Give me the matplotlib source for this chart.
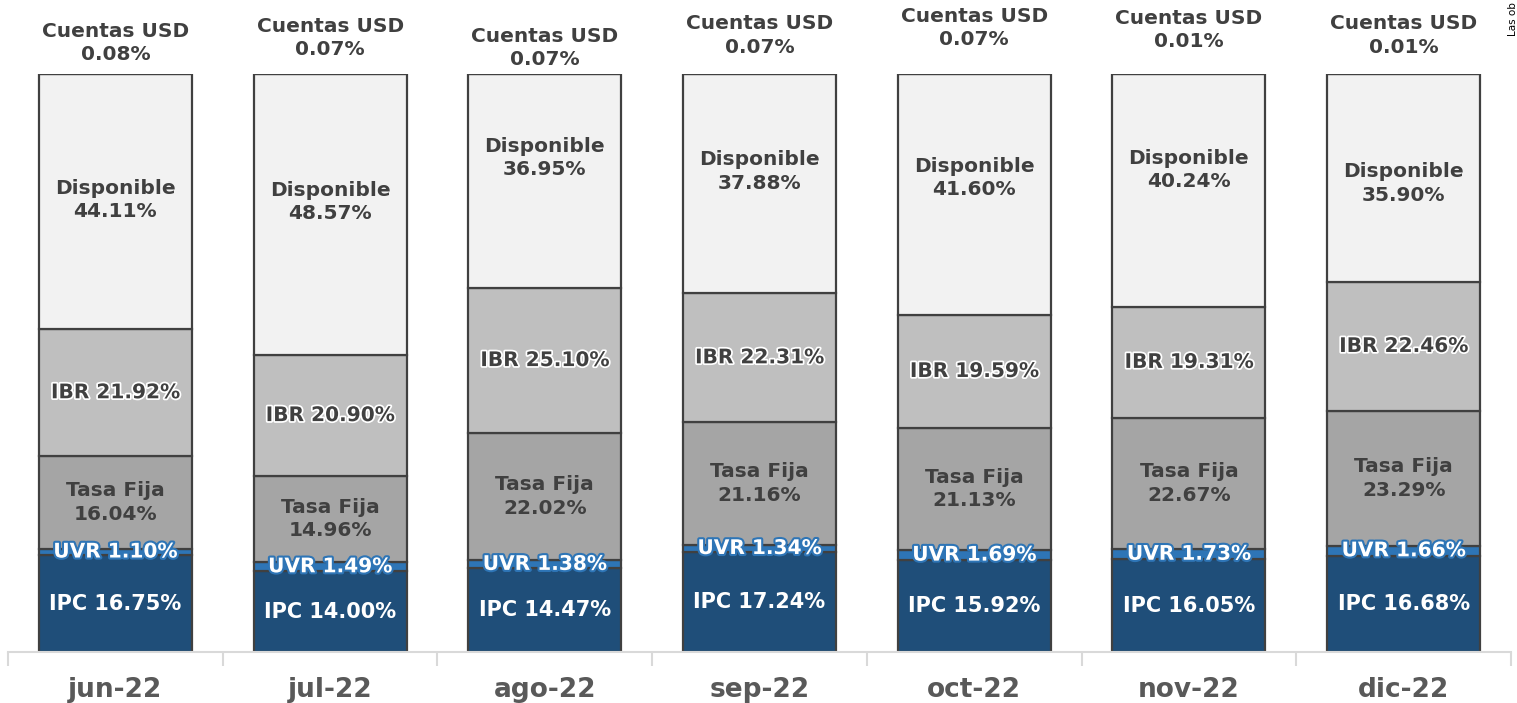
import matplotlib.pyplot as plt
import matplotlib.patheffects as pe
import numpy as np

months = ["jun-22", "jul-22", "ago-22", "sep-22", "oct-22", "nov-22", "dic-22"]
ipc = [16.75, 14.00, 14.47, 17.24, 15.92, 16.05, 16.68]
uvr = [1.10, 1.49, 1.38, 1.34, 1.69, 1.73, 1.66]
tasa_fija = [16.04, 14.96, 22.02, 21.16, 21.13, 22.67, 23.29]
ibr = [21.92, 20.90, 25.10, 22.31, 19.59, 19.31, 22.46]
disponible = [44.11, 48.57, 36.95, 37.88, 41.60, 40.24, 35.90]
cuentas_usd = [0.08, 0.07, 0.07, 0.07, 0.07, 0.01, 0.01]

series = [
    ("IPC", ipc, "#1F4E79"),
    ("UVR", uvr, "#2E75B6"),
    ("Tasa Fija", tasa_fija, "#A5A5A5"),
    ("IBR", ibr, "#BFBFBF"),
    ("Disponible", disponible, "#F2F2F2"),
    ("Cuentas USD", cuentas_usd, "#F2F2F2"),
]

# label placement tweaks (axis units), as placed in the original
usd_label_y = [105.4, 106.2, 104.5, 106.7, 108.0, 107.6, 106.7]
disp_label_shift = [0.3, 2.2, 4.0, 2.1, 2.9, 3.5, -1.0]

plt.rcParams['font.family'] = ['DejaVu Sans']
fig = plt.figure(figsize=(15.17, 7.03), dpi=100)
ax = fig.add_axes([8 / 1517, 51 / 703, 1503 / 1517, 578 / 703])

x = np.arange(len(months))
bottom = np.zeros(len(months))
dark = "#404040"
fs = 14.5
for name, vals, col in series:
    vals = np.array(vals)
    ax.bar(x, vals, 0.713, bottom=bottom, color=col, edgecolor=dark,
           linewidth=1.6, zorder=2)
    for i in range(len(months)):
        mid = bottom[i] + vals[i] / 2
        if name == "IPC":
            ax.text(x[i], mid, f"IPC {vals[i]:.2f}%", ha="center", va="center",
                    color="white", fontsize=15, fontweight="bold", zorder=5)
        elif name == "UVR":
            ax.text(x[i], mid, f"UVR {vals[i]:.2f}%", ha="center", va="center",
                    color="white", fontsize=fs, fontweight="bold", zorder=5,
                    path_effects=[pe.withStroke(linewidth=3, foreground="#2E75B6")])
        elif name == "IBR":
            ax.text(x[i], mid, f"IBR {vals[i]:.2f}%", ha="center", va="center",
                    color=dark, fontsize=fs, fontweight="bold", zorder=5,
                    path_effects=[pe.withStroke(linewidth=2.5, foreground="white")])
        elif name == "Cuentas USD":
            ax.text(x[i], usd_label_y[i], f"Cuentas USD\n{vals[i]:.2f}%",
                    ha="center", va="center", color=dark, fontsize=fs,
                    fontweight="bold", linespacing=1.3, zorder=5)
        elif name == "Disponible":
            ax.text(x[i], mid + disp_label_shift[i], f"{name}\n{vals[i]:.2f}%",
                    ha="center", va="center", color=dark, fontsize=fs,
                    fontweight="bold", linespacing=1.3, zorder=5)
        else:
            ax.text(x[i], mid, f"{name}\n{vals[i]:.2f}%", ha="center", va="center",
                    color=dark, fontsize=fs, fontweight="bold", linespacing=1.3,
                    zorder=5)
    bottom += vals

ax.set_xlim(-0.5, len(months) - 0.5)
ax.set_ylim(0, 100)
ax.set_yticks([])
for s in ["top", "right", "left"]:
    ax.spines[s].set_visible(False)
ax.spines["bottom"].set_color("#D9D9D9")
ax.spines["bottom"].set_linewidth(1.5)
ax.set_xticks(x)
ax.set_xticklabels(months, fontsize=19, fontweight="bold", color="#595959")
ax.tick_params(axis="x", length=0, pad=18)
ax.set_xticks(np.arange(-0.5, len(months)), minor=True)
ax.tick_params(axis="x", which="minor", length=10, width=1.5, color="#D9D9D9")

fig.text(1508 / 1517, 1 - 36 / 703, "Las ob", rotation=90, ha="left",
         va="bottom", fontsize=7.5, color="black")

fig.savefig("out.png", dpi=100)
